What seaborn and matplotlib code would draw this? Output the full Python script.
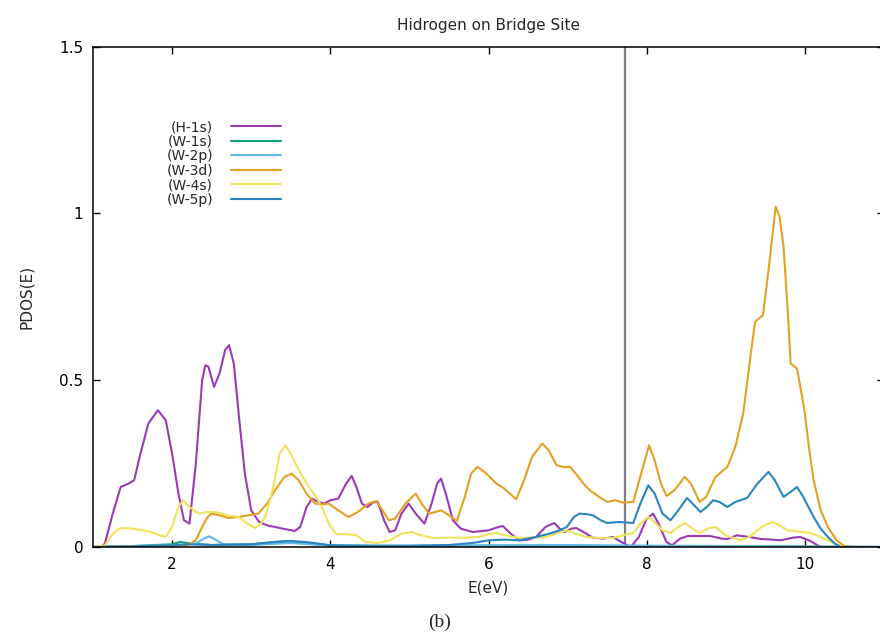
import numpy as np
import pandas as pd
import matplotlib
matplotlib.use("Agg")
import matplotlib.pyplot as plt
import seaborn as sns

# ---------------- data ----------------
title = "Hidrogen on Bridge Site"
x_label = "E(eV)"
y_label = "PDOS(E)"
caption = "(b)"
series_names = ["(H-1s)", "(W-1s)", "(W-2p)", "(W-3d)", "(W-4s)", "(W-5p)"]
series_colors = ["#9a3ab6", "#139e78", "#62b8e6", "#e3a122", "#eee25a", "#2a84c0"]
fermi_level = 7.72
x_ticks = [2, 4, 6, 8, 10]
x_tick_labels = ["2", "4", "6", "8", "10"]
y_ticks = [0, 0.5, 1, 1.5]
y_tick_labels = ["0", "0.5", "1", "1.5"]

h1s_E = [1.0, 1.1, 1.15, 1.25, 1.35, 1.45, 1.52, 1.6, 1.7, 1.82, 1.92, 2.0, 2.08, 2.15, 2.22,
         2.3, 2.38, 2.42, 2.46, 2.53, 2.6, 2.67, 2.72, 2.78, 2.85, 2.92, 3.0, 3.1, 3.2, 3.4,
         3.55, 3.62, 3.7, 3.77, 3.85, 3.92, 4.0, 4.1, 4.2, 4.27, 4.33, 4.4, 4.47, 4.55, 4.6,
         4.68, 4.75, 4.82, 4.9, 4.99, 5.08, 5.19, 5.28, 5.35, 5.40, 5.46, 5.55, 5.65, 5.8, 6.0,
         6.1, 6.18, 6.28, 6.39, 6.5, 6.6, 6.72, 6.83, 6.9, 6.96, 7.05, 7.11, 7.2, 7.32, 7.45,
         7.57, 7.68, 7.8, 7.9, 8.0, 8.08, 8.15, 8.25, 8.32, 8.42, 8.52, 8.7, 8.8, 8.95, 9.02,
         9.14, 9.3, 9.44, 9.6, 9.69, 9.85, 9.94, 10.05, 10.2, 11.0]
h1s_V = [0.0, 0.0, 0.01, 0.10, 0.18, 0.19, 0.20, 0.28, 0.37, 0.41, 0.38, 0.28, 0.16, 0.08, 0.07,
         0.25, 0.50, 0.545, 0.54, 0.48, 0.52, 0.59, 0.605, 0.55, 0.38, 0.22, 0.11, 0.075, 0.065, 0.055,
         0.048, 0.06, 0.12, 0.145, 0.135, 0.13, 0.14, 0.145, 0.19, 0.213, 0.18, 0.13, 0.12, 0.135, 0.135,
         0.08, 0.045, 0.05, 0.10, 0.13, 0.10, 0.07, 0.13, 0.19, 0.205, 0.16, 0.08, 0.055, 0.045, 0.05,
         0.058, 0.063, 0.04, 0.02, 0.022, 0.03, 0.06, 0.072, 0.055, 0.045, 0.055, 0.057, 0.045, 0.028, 0.025,
         0.03, 0.015, 0.0, 0.03, 0.085, 0.10, 0.07, 0.015, 0.005, 0.025, 0.033, 0.033, 0.033, 0.025, 0.024,
         0.035, 0.03, 0.024, 0.022, 0.02, 0.028, 0.03, 0.02, 0.0, 0.0]

w1s_E = [1.0, 1.5, 2.0, 2.1, 2.25, 2.5, 3.0, 3.3, 3.45, 3.6, 4.0, 5.0, 6.0, 7.0, 8.0, 9.0, 10.0, 11.0]
w1s_V = [0.0, 0.003, 0.008, 0.015, 0.01, 0.006, 0.008, 0.015, 0.018, 0.014, 0.005, 0.003, 0.004,
         0.003, 0.002, 0.002, 0.001, 0.0]

w2p_E = [1.0, 2.0, 2.3, 2.4, 2.47, 2.55, 2.65, 3.0, 3.5, 4.0, 5.0, 6.0, 7.0, 8.0, 9.0, 10.0, 11.0]
w2p_V = [0.0, 0.005, 0.01, 0.025, 0.032, 0.022, 0.008, 0.006, 0.012, 0.004, 0.003, 0.005, 0.006,
         0.004, 0.003, 0.002, 0.0]

w3d_E = [1.0, 2.2, 2.3, 2.38, 2.45, 2.5, 2.6, 2.71, 2.85, 2.96, 3.09, 3.2, 3.3, 3.42, 3.51, 3.6,
         3.7, 3.81, 3.9, 3.98, 4.1, 4.23, 4.35, 4.48, 4.58, 4.66, 4.74, 4.82, 4.95, 5.08, 5.17,
         5.25, 5.33, 5.4, 5.5, 5.6, 5.7, 5.78, 5.86, 5.95, 6.1, 6.2, 6.35, 6.45, 6.55, 6.68, 6.76,
         6.86, 6.95, 7.03, 7.12, 7.2, 7.28, 7.4, 7.5, 7.6, 7.7, 7.83, 7.93, 8.03, 8.1, 8.18, 8.25,
         8.35, 8.48, 8.56, 8.67, 8.75, 8.87, 9.02, 9.12, 9.22, 9.3, 9.37, 9.47, 9.55, 9.63, 9.68,
         9.73, 9.78, 9.82, 9.9, 9.95, 10.0, 10.05, 10.11, 10.2, 10.29, 10.4, 10.5, 10.6, 11.0]
w3d_V = [0.0, 0.005, 0.02, 0.06, 0.09, 0.10, 0.095, 0.087, 0.09, 0.095, 0.10, 0.13, 0.17, 0.21, 0.22, 0.20,
         0.16, 0.13, 0.128, 0.13, 0.11, 0.09, 0.105, 0.13, 0.138, 0.11, 0.08, 0.085, 0.13, 0.16, 0.125,
         0.10, 0.105, 0.11, 0.095, 0.078, 0.15, 0.22, 0.24, 0.225, 0.19, 0.175, 0.143, 0.20, 0.27, 0.31, 0.29,
         0.245, 0.24, 0.24, 0.215, 0.19, 0.17, 0.15, 0.135, 0.14, 0.133, 0.135, 0.22, 0.305, 0.26, 0.19, 0.153,
         0.17, 0.21, 0.19, 0.135, 0.15, 0.21, 0.24, 0.30, 0.40, 0.55, 0.675, 0.695, 0.85, 1.02, 0.99,
         0.90, 0.72, 0.55, 0.535, 0.47, 0.40, 0.30, 0.20, 0.11, 0.06, 0.02, 0.003, 0.0, 0.0]

w4s_E = [1.0, 1.15, 1.25, 1.35, 1.5, 1.7, 1.85, 1.92, 2.0, 2.08, 2.14, 2.22, 2.33, 2.45, 2.55, 2.7,
         2.84, 2.95, 3.05, 3.12, 3.18, 3.27, 3.36, 3.43, 3.5, 3.56, 3.65, 3.73, 3.82, 3.9, 3.98,
         4.07, 4.2, 4.32, 4.45, 4.6, 4.75, 4.9, 5.03, 5.15, 5.29, 5.5, 5.7, 5.88, 6.0, 6.1, 6.25,
         6.39, 6.55, 6.73, 6.85, 6.99, 7.1, 7.24, 7.4, 7.57, 7.7, 7.83, 7.92, 8.02, 8.1, 8.2, 8.3,
         8.4, 8.48, 8.58, 8.67, 8.77, 8.87, 9.0, 9.18, 9.3, 9.45, 9.59, 9.68, 9.78, 9.9, 10.07,
         10.2, 10.36, 10.5, 11.0]
w4s_V = [0.0, 0.005, 0.04, 0.057, 0.055, 0.047, 0.035, 0.03, 0.06, 0.12, 0.14, 0.12, 0.10, 0.105, 0.105, 0.095,
         0.09, 0.07, 0.057, 0.07, 0.09, 0.17, 0.28, 0.305, 0.28, 0.25, 0.21, 0.18, 0.15, 0.117, 0.07,
         0.04, 0.038, 0.036, 0.015, 0.012, 0.02, 0.04, 0.045, 0.035, 0.027, 0.028, 0.028, 0.03, 0.038, 0.042, 0.033,
         0.027, 0.028, 0.03, 0.04, 0.05, 0.04, 0.03, 0.027, 0.027, 0.035, 0.042, 0.07, 0.09, 0.075, 0.05, 0.042,
         0.06, 0.072, 0.055, 0.042, 0.055, 0.06, 0.035, 0.02, 0.03, 0.06, 0.075, 0.065, 0.05, 0.047, 0.042,
         0.03, 0.012, 0.0, 0.0]

w5p_E = [1.0, 1.5, 2.0, 2.2, 2.5, 3.0, 3.3, 3.5, 3.7, 4.0, 4.5, 5.0, 5.5, 5.8, 6.0, 6.2, 6.39, 6.6,
         6.77, 6.9, 6.99, 7.08, 7.15, 7.25, 7.32, 7.42, 7.5, 7.65, 7.83, 7.92, 8.02, 8.1, 8.2, 8.3,
         8.4, 8.51, 8.6, 8.68, 8.76, 8.84, 8.92, 9.02, 9.12, 9.27, 9.4, 9.54, 9.62, 9.73, 9.82, 9.9,
         9.98, 10.11, 10.2, 10.29, 10.38, 10.45, 11.0]
w5p_V = [0.0, 0.002, 0.005, 0.008, 0.006, 0.008, 0.015, 0.018, 0.015, 0.005, 0.003, 0.004, 0.006, 0.012,
         0.02, 0.022, 0.02, 0.03, 0.04, 0.05, 0.06, 0.09, 0.10, 0.098, 0.095, 0.08, 0.072, 0.075, 0.072,
         0.13, 0.185, 0.16, 0.10, 0.08, 0.11, 0.147, 0.125, 0.105, 0.12, 0.14, 0.135, 0.12, 0.135, 0.147,
         0.19, 0.225, 0.20, 0.15, 0.165, 0.18, 0.15, 0.09, 0.055, 0.03, 0.01, 0.0, 0.0]

# ---------------- build long table ----------------
all_E = [h1s_E, w1s_E, w2p_E, w3d_E, w4s_E, w5p_E]
all_V = [h1s_V, w1s_V, w2p_V, w3d_V, w4s_V, w5p_V]
frames = []
for name, e, v in zip(series_names, all_E, all_V):
    frames.append(pd.DataFrame({"E": e, "PDOS": v, "orbital": name}))
df = pd.concat(frames, ignore_index=True)

# ---------------- style ----------------
sns.set_style("ticks")
plt.rcParams["font.family"] = ["DejaVu Sans"]
plt.rcParams["font.size"] = 11

fig = plt.figure(figsize=(8.8, 6.4), dpi=100)
ax = fig.add_axes([93 / 880, 1 - 547 / 640, (884 - 93) / 880, (547 - 46.5) / 640])

palette = dict(zip(series_names, series_colors))
sns.lineplot(data=df, x="E", y="PDOS", hue="orbital", hue_order=series_names,
             palette=palette, estimator=None, sort=False, linewidth=1.5, ax=ax)

ax.axvline(fermi_level, color="#7f7f7f", linewidth=1.6, zorder=1)

ax.set_xlim(1, 11)
ax.set_ylim(0, 1.5)
ax.set_xticks(x_ticks)
ax.set_xticklabels(x_tick_labels)
ax.set_yticks(y_ticks)
ax.set_yticklabels(y_tick_labels)
ax.tick_params(direction="in", length=5, width=1, top=True, right=True,
               labelsize=11, colors="black")
ax.tick_params(axis="x", pad=7)
ax.tick_params(axis="y", pad=7)
for s in ax.spines.values():
    s.set_color("black")
    s.set_linewidth(1.1)

ax.set_xlabel(x_label, fontsize=11, labelpad=6)
ax.set_ylabel(y_label, fontsize=11, labelpad=18)
ax.set_title(title, fontsize=11, pad=12)

handles, labels = ax.get_legend_handles_labels()
leg = ax.legend(handles, labels, loc="center right",
                bbox_to_anchor=((281 - 93) / 791, (547 - 163.5) / 500.5),
                frameon=False, markerfirst=False, fontsize=10,
                handlelength=3.6, handletextpad=1.3, labelspacing=0.04,
                borderpad=0, borderaxespad=0)

fig.text(0.5, 1 - 622 / 640, caption, ha="center", va="center",
         fontsize=14, family=["Liberation Serif", "DejaVu Serif"])

fig.savefig("out.png", dpi=100)
